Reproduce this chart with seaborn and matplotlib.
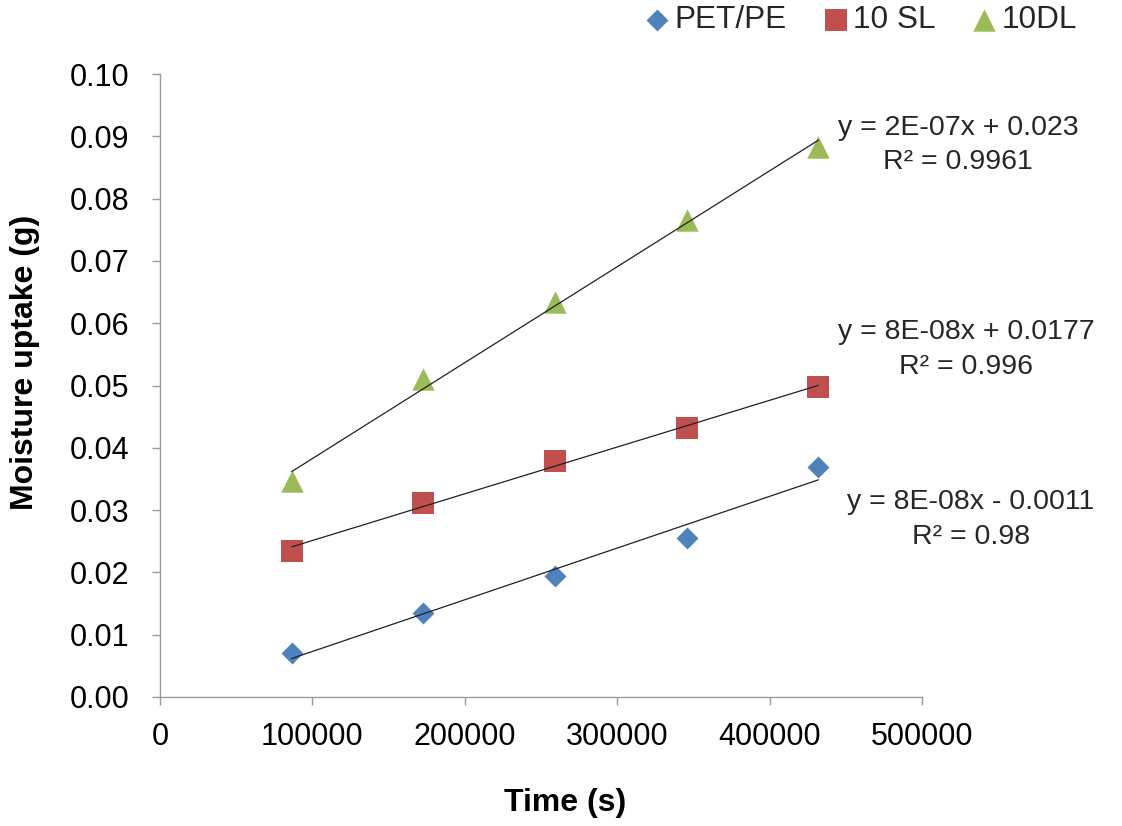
import numpy as np
import pandas as pd
import matplotlib
matplotlib.use("Agg")
import matplotlib.pyplot as plt
import seaborn as sns

# Sampling times: one reading per day, in seconds
time_s = [86400, 172800, 259200, 345600, 432000]

# Moisture uptake (g) for each laminate
pet_pe = [0.0071, 0.0135, 0.0195, 0.0256, 0.0369]
sl_10 = [0.0234, 0.0311, 0.0379, 0.0431, 0.0498]
dl_10 = [0.0346, 0.0510, 0.0634, 0.0766, 0.0883]

series_names = ["PET/PE", "10 SL", "10DL"]
series_values = [pet_pe, sl_10, dl_10]

# Linear trendline equations as reported for each series
equations = ["y = 8E-08x - 0.0011", "y = 8E-08x + 0.0177", "y = 2E-07x + 0.023"]
r_squared = ["R² = 0.98", "R² = 0.996", "R² = 0.9961"]

x_ticks = [0, 100000, 200000, 300000, 400000, 500000]
y_ticks = [0.00, 0.01, 0.02, 0.03, 0.04, 0.05, 0.06, 0.07, 0.08, 0.09, 0.10]

colors = ["#4F81BD", "#C0504D", "#9BBB59"]
markers = ["D", "s", "^"]
marker_area = [125, 240, 260]

sns.set_theme(style="white")
plt.rcParams["font.family"] = ["Liberation Sans", "DejaVu Sans"]

fig = plt.figure(figsize=(11.22, 8.26), dpi=100)
ax = fig.add_axes([160 / 1122, 1 - 697 / 826, 762 / 1122, 623 / 826])

frames = []
for name, vals in zip(series_names, series_values):
    frames.append(pd.DataFrame({"Time": time_s, "Uptake": vals, "Series": name}))
df = pd.concat(frames, ignore_index=True)

for name, col, mk, area in zip(series_names, colors, markers, marker_area):
    sub = df[df["Series"] == name]
    sns.regplot(data=sub, x="Time", y="Uptake", ax=ax, scatter=False, ci=None,
                truncate=True, line_kws=dict(color="#202020", lw=0.9, zorder=3))
    sns.scatterplot(data=sub, x="Time", y="Uptake", ax=ax, color=col, marker=mk,
                    s=area, linewidth=0, label=name, zorder=2)

ax.set_xlim(0, 500000)
ax.set_ylim(0, 0.10)
ax.set_xticks(x_ticks)
ax.set_xticklabels([f"{v:d}" for v in x_ticks])
ax.set_yticks(y_ticks)
ax.set_yticklabels([f"{v:.2f}" for v in y_ticks])

for side in ["top", "right"]:
    ax.spines[side].set_visible(False)
for side in ["left", "bottom"]:
    ax.spines[side].set_color("#9a9a9a")
    ax.spines[side].set_linewidth(1.0)

ax.tick_params(axis="both", which="major", direction="out", length=6, width=1,
               color="#9a9a9a", labelsize=22, labelcolor="black",
               bottom=True, left=True)
ax.tick_params(axis="y", pad=16)
ax.tick_params(axis="x", pad=12)

ax.set_xlabel("Time (s)", fontsize=23, fontweight="bold", color="black")
ax.set_ylabel("Moisture uptake (g)", fontsize=23, fontweight="bold", color="black")
ax.xaxis.set_label_coords((565 - 160) / 762, (697 - 788) / 623)
ax.yaxis.set_label_coords((40 - 160) / 762, (697 - 362) / 623)

# Trendline equations beside the line ends
eq_pos = [(971, 502, 537), (966, 332, 367), (958, 128, 162)]
for (cx, y1, y2), eq, r2 in zip(eq_pos, equations, r_squared):
    fig.text(cx / 1122, 1 - y1 / 826, eq, ha="center", va="center", fontsize=20.5)
    fig.text(cx / 1122, 1 - y2 / 826, r2, ha="center", va="center", fontsize=20.5)

if ax.get_legend():
    ax.get_legend().remove()
handles, labels = ax.get_legend_handles_labels()
fig.legend(handles, labels, loc="upper right", bbox_to_anchor=(1096 / 1122, 1 + 14 / 826),
           ncol=3, frameon=False, fontsize=22.7, handletextpad=0.1, handlelength=0.9,
           columnspacing=1.1, borderaxespad=0.2)

fig.savefig("out.png", dpi=100)
